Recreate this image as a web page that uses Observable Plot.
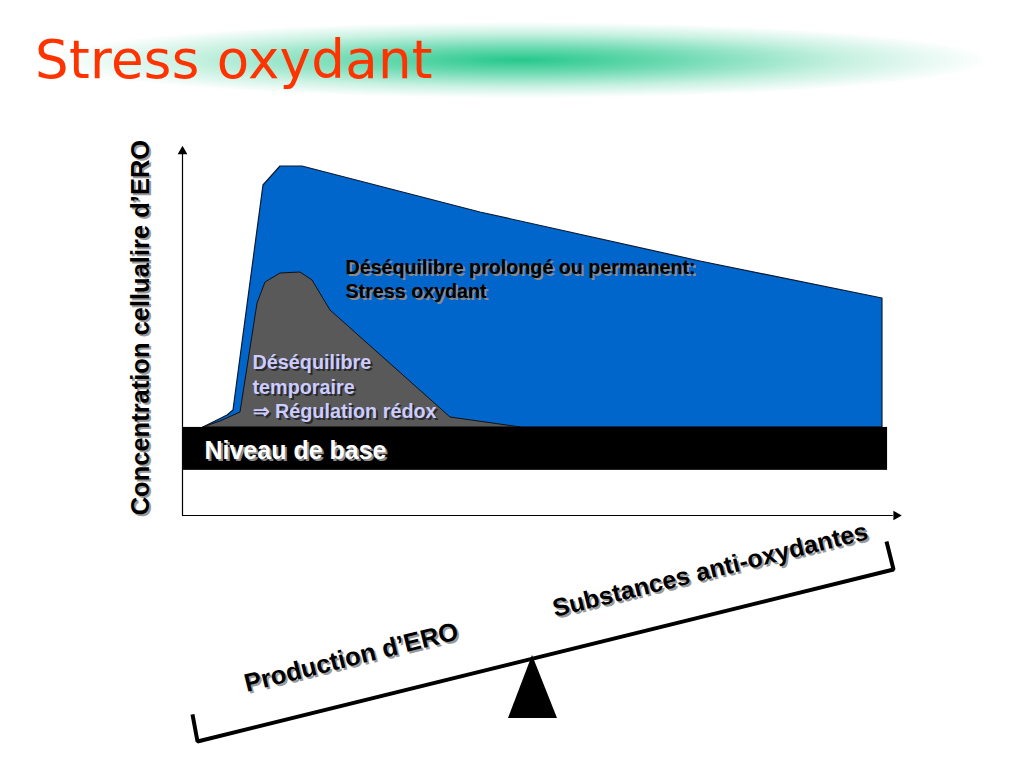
<!DOCTYPE html>
<html>
<head>
<meta charset="utf-8">
<script src="https://cdn.jsdelivr.net/npm/d3@7"></script>
<script src="https://cdn.jsdelivr.net/npm/@observablehq/plot@0.6"></script>
<style>
  html, body { margin: 0; padding: 0; background: #fff; overflow: hidden; }
  #header { position: relative; width: 1024px; height: 110px; }
  #glow {
    position: absolute; left: 30px; top: 22px; width: 960px; height: 76px;
    background: radial-gradient(ellipse closest-side at 51% 50%,
      rgba(38,200,140,1) 0%, rgba(38,200,140,0.65) 35%, rgba(38,200,140,0.25) 70%, rgba(38,200,140,0) 100%);
  }
  #title {
    position: absolute; left: 35px; top: 33px; margin: 0;
    font-family: "Comic Sans MS", "DejaVu Sans", sans-serif; font-weight: normal;
    font-size: 53px; line-height: 53px; color: #FF3300; letter-spacing: 0.3px;
  }
  svg { display: block; }
</style>
</head>
<body>
<div id="header"><div id="glow"></div><h1 id="title">Stress oxydant</h1></div>
<div id="chart"></div>
<script>
// ---- data (time units 0..100, concentration units 0..100) ----
const baseLevel = 24.0;          // top of "Niveau de base"
const baseBandX = [0, 98.2];
const baseBandY = [12.3, 24.0];

// Prolonged imbalance (blue)
const blueX = [2.92, 6.27, 7.10, 11.28, 13.65, 16.71, 41.50, 72.14, 97.49, 97.49];
const blueY = [24.0, 27.25, 28.61, 89.92, 95.10, 95.10, 82.56, 69.21, 59.13, 24.0];

// Temporary imbalance (grey)
const greyX = [2.92, 5.29, 8.08, 10.45, 11.56, 13.65, 16.43, 18.11, 20.61, 37.33, 47.08];
const greyY = [24.0, 25.61, 28.07, 57.77, 63.49, 65.94, 66.21, 64.03, 55.86, 26.70, 24.0];

// Balance (seesaw) beneath the chart
const beamX = [1.39, 2.09, 99.03, 98.05];
const beamY = [-54.22, -61.58, -14.71, -7.08];
const fulcrumX = [45.40, 48.75, 52.23];
const fulcrumY = [-55.31, -38.15, -55.31];
const beamAngle = -14;

// Labels
const labels = [
  {text: "Concentration cellualire d’ERO", x: -5.85, y: 51.2, rotate: -90, anchor: "middle", size: 25.5, fill: "#000", shadow: "#9a9a9a", lh: 1},
  {text: "Déséquilibre prolongé ou permanent:\nStress oxydant", x: 22.7, y: 64.6, rotate: 0, anchor: "start", size: 19.7, fill: "#000", shadow: "#8a8a8a", lh: 1.22},
  {text: "Déséquilibre\ntemporaire\n⇒ Régulation rédox", x: 9.75, y: 35.3, rotate: 0, anchor: "start", size: 19.8, fill: "#CCCCFF", shadow: "#2a2a2a", lh: 1.24},
  {text: "Niveau de base", x: 3.06, y: 17.7, rotate: 0, anchor: "start", size: 25, fill: "#FFFFFF", shadow: "#8a8a8a", lh: 1},
  {text: "Production d’ERO", x: 23.5, y: -38.7, rotate: beamAngle, anchor: "middle", size: 25.5, fill: "#000", shadow: "#9a9a9a", lh: 1},
  {text: "Substances anti-oxydantes", x: 73.5, y: -14.9, rotate: beamAngle, anchor: "middle", size: 25, fill: "#000", shadow: "#9a9a9a", lh: 1}
];

// ---- build tables ----
const blue = blueX.map((x, i) => ({x, y: blueY[i]}));
const grey = greyX.map((x, i) => ({x, y: greyY[i]}));
const beam = beamX.map((x, i) => ({x, y: beamY[i]}));
const fulcrum = fulcrumX.map((x, i) => ({x, y: fulcrumY[i]}));

const textMarks = [];
for (const l of labels) {
  const common = {x: "x", y: "y", text: "text", rotate: l.rotate, textAnchor: l.anchor, lineAnchor: "middle",
    fontSize: l.size, fontWeight: "bold", lineHeight: l.lh};
  textMarks.push(Plot.text([l], {...common, fill: l.shadow, dx: 2, dy: 2}));
  textMarks.push(Plot.text([l], {...common, fill: l.fill}));
}

const chart = Plot.plot({
  width: 1024,
  height: 658,
  margin: 0,
  x: {domain: [0, 100], range: [182, 900], axis: null},
  y: {domain: [0, 100], range: [405, 38], axis: null},
  style: {fontFamily: "'Liberation Sans', Arial, sans-serif", background: "transparent", overflow: "visible"},
  marks: [
    // axes with arrowheads
    Plot.ruleX([0], {y1: 0, y2: 98.8, stroke: "#000", strokeWidth: 1.2}),
    Plot.ruleY([0], {x1: 0, x2: 99, stroke: "#000", strokeWidth: 1.2}),
    Plot.dot([{x: 0, y: 99.2}], {x: "x", y: "y", symbol: "triangle", r: 3.6, fill: "#000", stroke: "none"}),
    Plot.dot([{x: 99.4, y: 0}], {x: "x", y: "y", symbol: "triangle", r: 3.6, fill: "#000", stroke: "none", rotate: 90}),
    // areas
    Plot.areaY(blue, {x: "x", y1: baseLevel, y2: "y", fill: "#0066CC", stroke: "#0a1a33", strokeWidth: 1.2, curve: "linear"}),
    Plot.areaY(grey, {x: "x", y1: baseLevel, y2: "y", fill: "#595959", stroke: "#111", strokeWidth: 1, curve: "linear"}),
    // base level band
    Plot.rect([{x1: baseBandX[0], x2: baseBandX[1], y1: baseBandY[0], y2: baseBandY[1]}],
      {x1: "x1", x2: "x2", y1: "y1", y2: "y2", fill: "#000"}),
    // seesaw
    Plot.line(beam, {x: "x", y: "y", stroke: "#000", strokeWidth: 4, strokeLinejoin: "miter", strokeLinecap: "butt"}),
    Plot.areaY(fulcrum, {x: "x", y1: fulcrumY[0], y2: "y", fill: "#000"}),
    ...textMarks
  ]
});
document.getElementById("chart").appendChild(chart);
</script>
</body>
</html>
